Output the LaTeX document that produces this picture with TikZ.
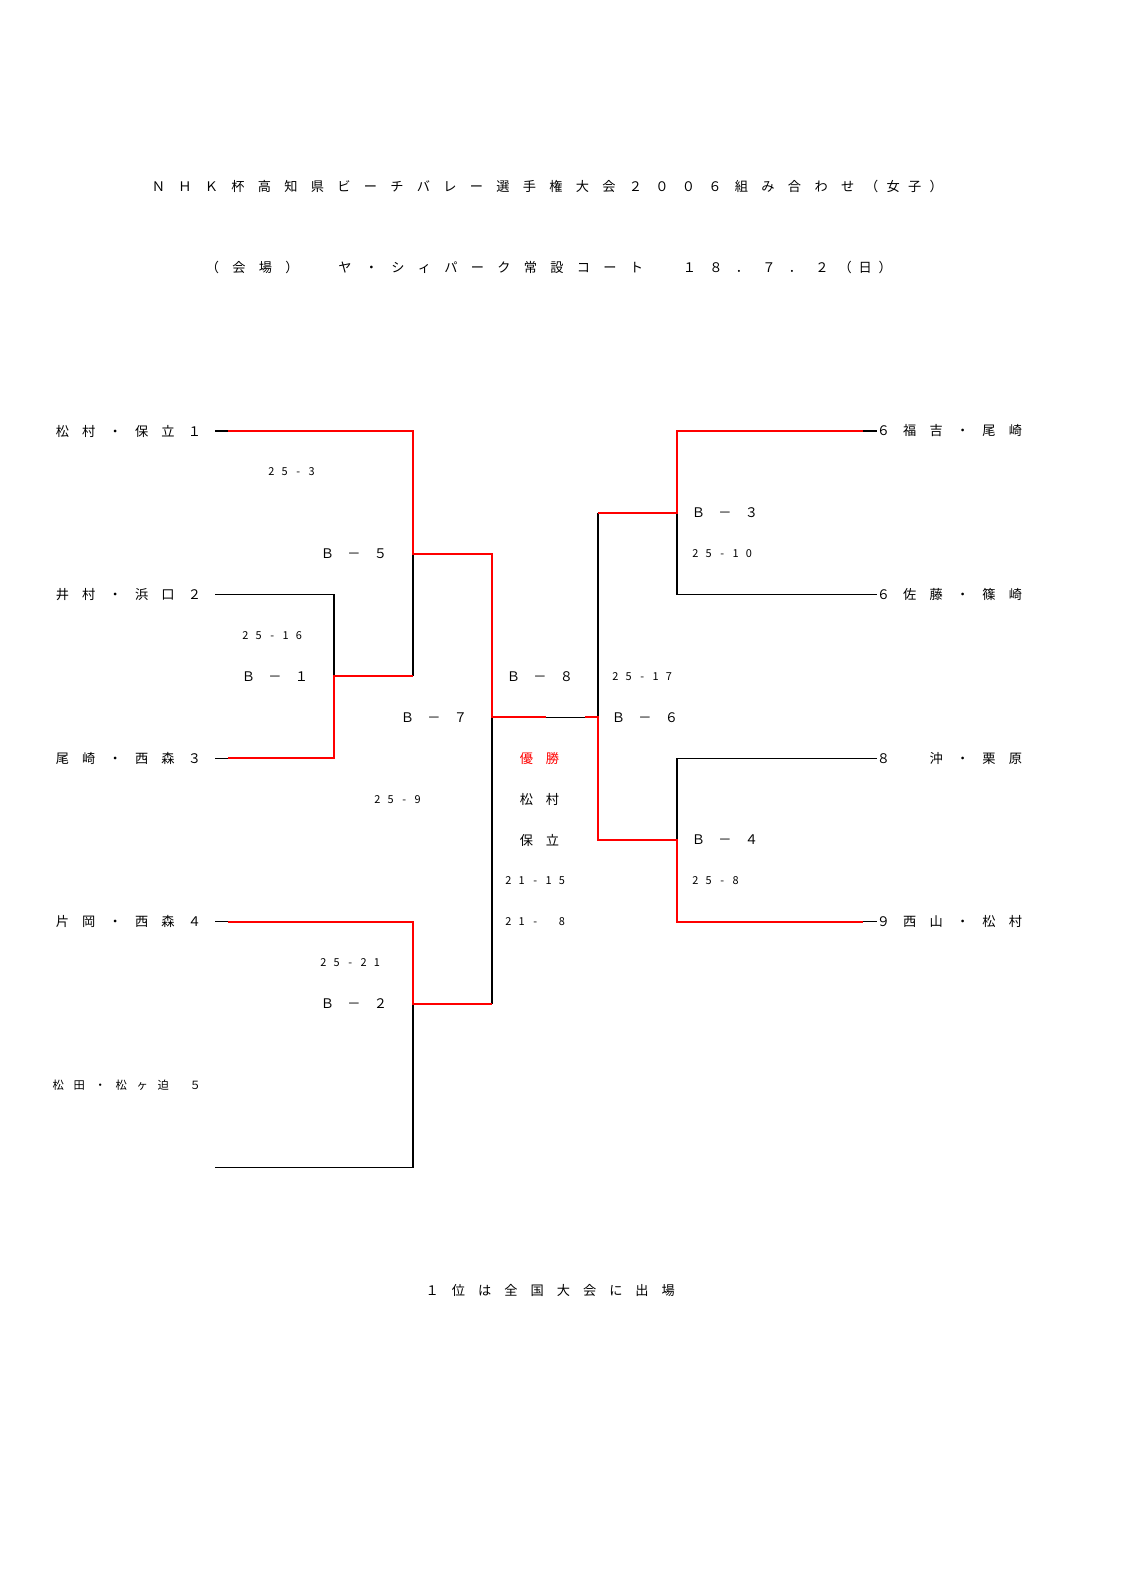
\documentclass[tikz,border=0pt]{standalone}
\usepackage{fontspec}
\newfontfamily\jp{Noto Sans CJK JP}
\newlength\pitchlen
\newcommand\spaced[2]{\setlength\pitchlen{#1}\spacedloop#2\relax}
\def\spacedloop#1{\ifx\relax#1\else\makebox[\pitchlen]{#1}\expandafter\spacedloop\fi}

\begin{document}
\begin{tikzpicture}[x=0.53pt,y=-0.53pt,
  win/.style={red, line width=1.1pt},
  lose/.style={black, line width=0.55pt},
  team/.style={anchor=west, inner sep=0pt, font={\jp\fontsize{7pt}{8pt}\selectfont}},
  small/.style={team, font={\jp\fontsize{6pt}{7pt}\selectfont}},
  score/.style={anchor=west, inner sep=0pt, font={\jp\fontsize{5.8pt}{6.5pt}\selectfont}}]
			%%%%% START %%%%%
			\fill[white] (0,0) rectangle (1123,1587);
			\useasboundingbox (0,0) rectangle (1123,1587);
			
			\node[team] (title) at (144.75,186) {\spaced{14.05pt}{ＮＨＫ杯高知県ビーチバレー選手権大会２００６組み合わせ}\spaced{11.4pt}{（女子）}};
			\node[team] (place) at (198.75,267) {\spaced{14.05pt}{（会場）　ヤ・シィパーク常設コート　１８．７．２}\spaced{10.6pt}{（日）}};
			
			\node[team] (t1) at (48.8,431) {\spaced{14pt}{松村・保立１}};
			\node[team] (t2) at (48.8,594.6) {\spaced{14pt}{井村・浜口２}};
			\node[team] (t3) at (48.8,758.2) {\spaced{14pt}{尾崎・西森３}};
			\node[team] (t4) at (48.8,921.8) {\spaced{14pt}{片岡・西森４}};
			\node[small] (t5) at (47.5,1085.4) {\spaced{11.13pt}{松田・松ヶ迫}\hspace{5.8pt}\makebox[11.13pt]{５}};
			\node[team] (t6) at (869.8,431) {\spaced{14pt}{６福吉・尾崎}};
			\node[team] (t7) at (869.8,594.6) {\spaced{14pt}{６佐藤・篠崎}};
			\node[team] (t8) at (869.8,758.2) {\spaced{14pt}{８　沖・栗原}};
			\node[team] (t9) at (869.8,921.8) {\spaced{14pt}{９西山・松村}};
			
			\coordinate (p1) at (215,431);  \coordinate (p1r) at (228,431);
			\coordinate (p2) at (215,594.6);
			\coordinate (p3) at (215,758.2); \coordinate (p3r) at (228,758.2);
			\coordinate (p4) at (215,921.8); \coordinate (p4r) at (228,921.8);
			\coordinate (p5) at (215,1167.2);
			\coordinate (b1a) at (334,594.6); \coordinate (b1) at (334,676.4); \coordinate (b1b) at (334,758.2);
			\coordinate (b5a) at (413,431); \coordinate (b5) at (413,553.7); \coordinate (b5b) at (413,676.4);
			\coordinate (b2a) at (413,921.8); \coordinate (b2) at (413,1003.6); \coordinate (b2b) at (413,1167.2);
			\coordinate (b7a) at (492,553.7); \coordinate (b7) at (492,717.3); \coordinate (b7b) at (492,1003.6);
			\coordinate (c1) at (546,717.3); \coordinate (c2) at (585,717.3);
			\coordinate (b6a) at (598,512.8); \coordinate (b6) at (598,717.3); \coordinate (b6b) at (598,840);
			\coordinate (b3a) at (677,431); \coordinate (b3) at (677,512.8); \coordinate (b3b) at (677,594.6);
			\coordinate (b4a) at (677,758.2); \coordinate (b4) at (677,840); \coordinate (b4b) at (677,921.8);
			\coordinate (q6) at (877,431); \coordinate (q6r) at (863,431);
			\coordinate (q7) at (877,594.6);
			\coordinate (q8) at (877,758.2);
			\coordinate (q9) at (877,921.8); \coordinate (q9r) at (863,921.8);
			
			\draw[lose] (p1) -- (p1r);
			\draw[lose] (p2) -- (b1a) -- (b1);
			\draw[lose] (p3) -- (p3r);
			\draw[lose] (b5) -- (b5b);
			\draw[lose] (p4) -- (p4r);
			\draw[lose] (p5) -- (b2b) -- (b2);
			\draw[lose] (b7) -- (b7b);
			\draw[lose] (c1) -- (c2);
			\draw[lose] (b6a) -- (b6);
			\draw[lose] (q6r) -- (q6);
			\draw[lose] (b3) -- (b3b) -- (q7);
			\draw[lose] (q8) -- (b4a) -- (b4);
			\draw[lose] (q9r) -- (q9);
			
			\draw[win] (p1r) -- (b5a) -- (b5) -- (b7a) -- (b7) -- (c1);
			\draw[win] (p3r) -- (b1b) -- (b1) -- (b5b);
			\draw[win] (p4r) -- (b2a) -- (b2) -- (b7b);
			\draw[win] (c2) -- (b6) -- (b6b) -- (b4) -- (b4b) -- (q9r);
			\draw[win] (b6a) -- (b3) -- (b3a) -- (q6r);
			
			\node[team] (g5) at (313.75,553.7) {\spaced{14.05pt}{Ｂ－５}};
			\node[team] (g1) at (234.75,676.4) {\spaced{14.05pt}{Ｂ－１}};
			\node[team] (g7) at (393.75,717.3) {\spaced{14.05pt}{Ｂ－７}};
			\node[team] (g2) at (313.75,1003.6) {\spaced{14.05pt}{Ｂ－２}};
			\node[team] (g8) at (499.75,676.4) {\spaced{14.05pt}{Ｂ－８}};
			\node[team] (g6) at (604.75,717.3) {\spaced{14.05pt}{Ｂ－６}};
			\node[team] (g3) at (684.75,512.8) {\spaced{14.05pt}{Ｂ－３}};
			\node[team] (g4) at (684.75,840) {\spaced{14.05pt}{Ｂ－４}};
			
			\node[score] (s5) at (264.3,471.9) {\spaced{7.1pt}{25-3}};
			\node[score] (s1) at (238.3,635.5) {\spaced{7.1pt}{25-16}};
			\node[score] (s7) at (370.3,799.1) {\spaced{7.1pt}{25-9}};
			\node[score] (s2) at (316.3,962.7) {\spaced{7.1pt}{25-21}};
			\node[score] (s6) at (608.3,676.4) {\spaced{7.1pt}{25-17}};
			\node[score] (s3) at (688.3,553.7) {\spaced{7.1pt}{25-10}};
			\node[score] (s4) at (688.3,880.9) {\spaced{7.1pt}{25-8}};
			
			\node[team, text=red] (champ) at (513,758.2) {\spaced{13.8pt}{優勝}};
			\node[team] (w1) at (513,799.1) {\spaced{13.8pt}{松村}};
			\node[team] (w2) at (513,840) {\spaced{13.8pt}{保立}};
			\node[score] (f1) at (501.3,880.9) {\spaced{7.1pt}{21-15}};
			\node[score] (f2) at (501.3,921.8) {\spaced{7.1pt}{21-　8}};
			
			\node[team] (note) at (418.8,1290) {\spaced{13.9pt}{１位は全国大会に出場}};
			%%%%% END %%%%%
\end{tikzpicture}
\end{document}
